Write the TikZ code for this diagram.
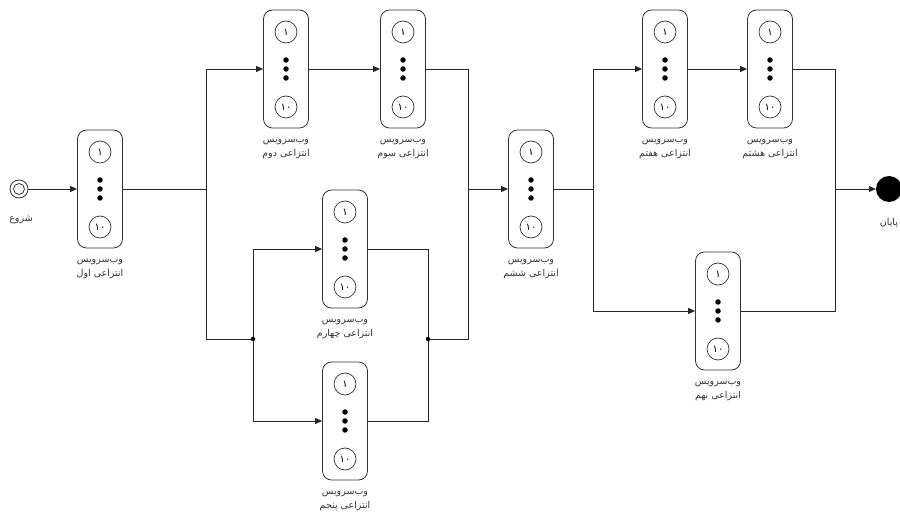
\documentclass[tikz,border=0pt]{standalone}
\usepackage{fontspec}
\newfontfamily\arabicfont[Script=Arabic]{DejaVu Sans}
\TeXXeTstate=1
\usetikzlibrary{arrows.meta}
\tikzset{
  svcbox/.style={draw=black!80, rounded corners=9pt, minimum width=45pt, minimum height=118pt, line width=0.8pt, inner sep=0pt},
  numc/.style={draw=black!80, circle, minimum size=22pt, inner sep=0pt, line width=0.7pt, font=\arabicfont\fontsize{10}{10}\selectfont},
  dotn/.style={fill=black, circle, inner sep=0pt, minimum size=5.5pt},
  junc/.style={fill=black, circle, inner sep=0pt, minimum size=4.5pt},
  lbl/.style={font=\arabicfont\fontsize{9.5}{14}\selectfont, align=center, inner sep=0pt, text=black!80},
  conn/.style={draw=black!85, line width=0.9pt},
  flow/.style={conn, -{Triangle[length=7pt,width=6pt]}}
}
\newcommand\wsbox[4]{%
  \node[svcbox] (#1) at (#2,#3) {};
  \node[numc] (#1a) at (#2,#3-37) {۱};
  \node[numc] (#1b) at (#2,#3+38) {۱۰};
  \node[dotn] (#1d1) at (#2,#3-9) {};
  \node[dotn] (#1d2) at (#2,#3) {};
  \node[dotn] (#1d3) at (#2,#3+9) {};
  \node[lbl, anchor=north] (#1l) at (#2,#3+70) {\beginR وب‌سرویس\endR\\\beginR انتزاعی #4\endR};
}
\begin{document}
\begin{tikzpicture}[x=1pt,y=-1pt]
\useasboundingbox (0,0) rectangle (900,518);
% start and end events
\node[draw=black!80, circle, minimum size=18pt, inner sep=0pt, line width=0.8pt] (start) at (19,189) {};
\node[draw=black!80, circle, minimum size=11pt, inner sep=0pt, line width=0.8pt] (startin) at (19,189) {};
\node[lbl, anchor=north] (startl) at (21,216) {\beginR شروع\endR};
\node[fill=black, circle, minimum size=26pt, inner sep=0pt] (end) at (889,189) {};
\node[lbl, anchor=north] (endl) at (889,218) {\beginR پایان\endR};
% services
\wsbox{b1}{100}{189}{اول}
\wsbox{b2}{286}{69}{دوم}
\wsbox{b3}{403}{69}{سوم}
\wsbox{b4}{345}{249}{چهارم}
\wsbox{b5}{345}{421}{پنجم}
\wsbox{b6}{531}{189}{ششم}
\wsbox{b7}{665}{69}{هفتم}
\wsbox{b8}{770}{69}{هشتم}
\wsbox{b9}{718}{311}{نهم}
% junction points
\coordinate (j1) at (206,189);
\coordinate (j2) at (206,339);
\node[junc] (j3) at (253,339) {};
\node[junc] (j4) at (428,339) {};
\coordinate (j5) at (468,339);
\coordinate (j6) at (468,189);
\coordinate (j7) at (593,189);
\coordinate (j8) at (835,189);
% connectors
\draw[flow] (start) -- (b1);
\draw[conn] (b1.east) -- (j1);
\draw[flow] (j1) |- (b2.west);
\draw[conn] (j1) -- (j2) -- (j3);
\draw[flow] (j3) |- (b4.west);
\draw[flow] (j3) |- (b5.west);
\draw[flow] (b2) -- (b3);
\draw[conn] (b4.east) -| (j4);
\draw[conn] (b5.east) -| (j4);
\draw[conn] (j4) -- (j5) -- (j6);
\draw[conn] (b3.east) -| (j6);
\draw[flow] (j6) -- (b6.west);
\draw[conn] (b6.east) -- (j7);
\draw[flow] (j7) |- (b7.west);
\draw[flow] (j7) |- (b9.west);
\draw[flow] (b7) -- (b8);
\draw[conn] (b8.east) -| (j8);
\draw[conn] (b9.east) -| (j8);
\draw[flow] (j8) -- (end);
\end{tikzpicture}
\end{document}
